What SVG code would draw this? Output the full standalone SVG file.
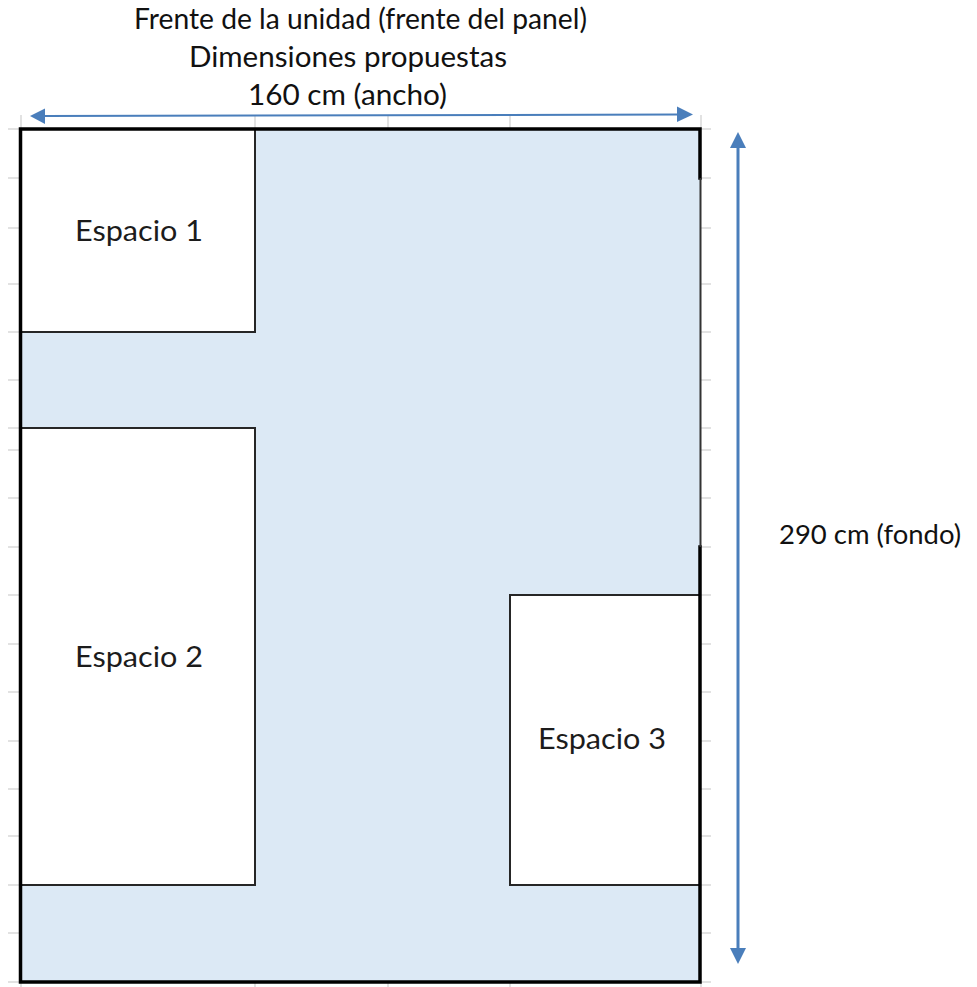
<svg xmlns="http://www.w3.org/2000/svg" width="977" height="987" viewBox="0 0 977 987">
<style>
.lab{font-family:Lato,"Open Sans",sans-serif;font-size:28px;fill:#111}
.sp{font-size:29px;fill:#1c1c1c}
.tick{stroke:#d9d9d9;stroke-width:1.5;fill:none}
.box{fill:#fff;stroke:#262626;stroke-width:2}
.arrow{stroke:#4a7ebb;fill:none}
.head{fill:#4a7ebb}
</style>
<rect width="977" height="987" fill="#fff"/>
<g id="grid">
<path class="tick" d="M8 129H20M8 178H20M8 228H20M8 284H20M8 332H20M8 380H20M8 428H20M8 450H20M8 498H20M8 547H20M8 595H20M8 644H20M8 692H20M8 741H20M8 789H20M8 836H20M8 885H20M8 933H20M8 982H20"/>
<path class="tick" d="M701 129H711M701 178H711M701 228H711M701 284H711M701 332H711M701 380H711M701 428H711M701 450H711M701 498H711M701 547H711M701 595H711M701 644H711M701 692H711M701 741H711M701 789H711M701 836H711M701 885H711M701 933H711M701 982H711"/>
<path class="tick" d="M21 115V129M255 115V129M388 115V129M510 115V129M701 115V129M21 982V987M255 982V987M388 982V987M510 982V987M701 982V987"/>
</g>
<rect id="floor" x="20" y="129" width="680" height="853" fill="#dce9f5"/>
<g id="espacio-1">
<rect class="box" x="20" y="129" width="235" height="203"/>
<text class="lab sp" x="75" y="240.500" textLength="128" lengthAdjust="spacingAndGlyphs">Espacio 1</text>
</g>
<g id="espacio-2">
<rect class="box" x="20" y="428" width="235" height="457"/>
<text class="lab sp" x="75" y="667" textLength="128" lengthAdjust="spacingAndGlyphs">Espacio 2</text>
</g>
<g id="espacio-3">
<rect class="box" x="510" y="595" width="190" height="290"/>
<text class="lab sp" x="538" y="748.500" textLength="128" lengthAdjust="spacingAndGlyphs">Espacio 3</text>
</g>
<path id="outline" fill="none" stroke="#000" stroke-width="3.500" stroke-linecap="square" d="M700 178V129H20.500V982H700V547"/>
<path id="outline-thin" fill="none" stroke="#333" stroke-width="2" d="M700.500 178V547"/>
<g id="connectors">
<path class="arrow" stroke-width="2" d="M44 116L678 114.500"/>
<path class="head" d="M30 116L45 108.500V124Z"/>
<path class="head" d="M693 114.500L677 106.500V122Z"/>
<path class="arrow" stroke-width="3" d="M738 146V950"/>
<path class="head" d="M738 132L746 148H730Z"/>
<path class="head" d="M738 964L730 948H746Z"/>
</g>
<g id="titles">
<text class="lab" x="134" y="29" textLength="453" lengthAdjust="spacingAndGlyphs">Frente de la unidad (frente del panel)</text>
<text class="lab" x="189" y="67" textLength="318" lengthAdjust="spacingAndGlyphs">Dimensiones propuestas</text>
<text class="lab" x="248" y="105" textLength="199" lengthAdjust="spacingAndGlyphs">160 cm (ancho)</text>
<text class="lab" x="779" y="544" style="font-size:26.500px" textLength="182" lengthAdjust="spacingAndGlyphs">290 cm (fondo)</text>
</g>
</svg>
